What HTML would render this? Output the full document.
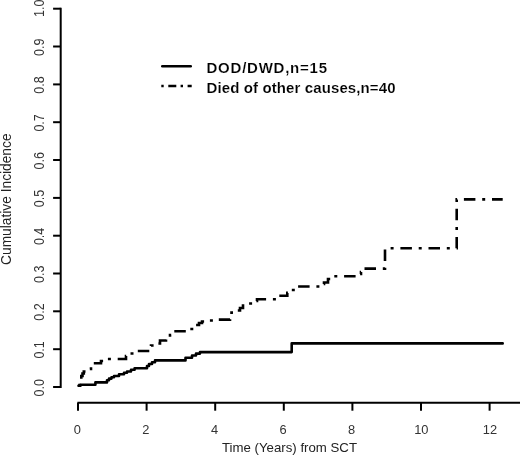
<!DOCTYPE html>
<html><head><meta charset="utf-8"><title>Cumulative Incidence</title>
<style>
html,body{margin:0;padding:0;background:#fff;}
body{width:520px;height:455px;overflow:hidden;}
svg{display:block;font-family:"Liberation Sans",Arial,sans-serif;fill:#111;}
.ax{stroke:#000;stroke-width:2;fill:none;}
.yt{font-size:14px;fill:#333;}
.xt{font-size:12.5px;fill:#333;}
.lab{font-size:13px;fill:#222;}
.ylab{font-size:14px;fill:#222;}
.leg{font-size:15px;font-weight:bold;fill:#000;stroke:#fff;stroke-width:0.15;}
.c1{stroke:#000;stroke-width:2.6;fill:none;stroke-linejoin:round;stroke-linecap:round;}
.c2{stroke:#000;stroke-width:2.6;fill:none;stroke-linejoin:miter;stroke-linecap:butt;stroke-dasharray:3 6.8 11.5 6.8;}
.l2{stroke:#000;stroke-width:2.5;fill:none;stroke-dasharray:2.4 4.6 8 4.3;}
</style></head><body>
<svg width="520" height="455" viewBox="0 0 520 455">
<rect width="520" height="455" fill="#fff"/>
<path d="M60.7 388.0 V7.7" class="ax"/>
<path d="M53.1 387.0 H60.7" class="ax"/>
<text class="yt" transform="translate(43.7 387.7) rotate(-90)" text-anchor="middle" textLength="17.4" lengthAdjust="spacingAndGlyphs">0.0</text>
<path d="M53.1 349.2 H60.7" class="ax"/>
<text class="yt" transform="translate(43.7 349.9) rotate(-90)" text-anchor="middle" textLength="17.4" lengthAdjust="spacingAndGlyphs">0.1</text>
<path d="M53.1 311.3 H60.7" class="ax"/>
<text class="yt" transform="translate(43.7 312.0) rotate(-90)" text-anchor="middle" textLength="17.4" lengthAdjust="spacingAndGlyphs">0.2</text>
<path d="M53.1 273.5 H60.7" class="ax"/>
<text class="yt" transform="translate(43.7 274.2) rotate(-90)" text-anchor="middle" textLength="17.4" lengthAdjust="spacingAndGlyphs">0.3</text>
<path d="M53.1 235.7 H60.7" class="ax"/>
<text class="yt" transform="translate(43.7 236.4) rotate(-90)" text-anchor="middle" textLength="17.4" lengthAdjust="spacingAndGlyphs">0.4</text>
<path d="M53.1 197.9 H60.7" class="ax"/>
<text class="yt" transform="translate(43.7 198.6) rotate(-90)" text-anchor="middle" textLength="17.4" lengthAdjust="spacingAndGlyphs">0.5</text>
<path d="M53.1 160.0 H60.7" class="ax"/>
<text class="yt" transform="translate(43.7 160.7) rotate(-90)" text-anchor="middle" textLength="17.4" lengthAdjust="spacingAndGlyphs">0.6</text>
<path d="M53.1 122.2 H60.7" class="ax"/>
<text class="yt" transform="translate(43.7 122.9) rotate(-90)" text-anchor="middle" textLength="17.4" lengthAdjust="spacingAndGlyphs">0.7</text>
<path d="M53.1 84.4 H60.7" class="ax"/>
<text class="yt" transform="translate(43.7 85.1) rotate(-90)" text-anchor="middle" textLength="17.4" lengthAdjust="spacingAndGlyphs">0.8</text>
<path d="M53.1 46.5 H60.7" class="ax"/>
<text class="yt" transform="translate(43.7 47.2) rotate(-90)" text-anchor="middle" textLength="17.4" lengthAdjust="spacingAndGlyphs">0.9</text>
<path d="M53.1 8.7 H60.7" class="ax"/>
<text class="yt" transform="translate(43.7 8.2) rotate(-90)" text-anchor="middle" textLength="17.4" lengthAdjust="spacingAndGlyphs">1.0</text>
<path d="M77.4 402.7 H521.0" class="ax"/>
<path d="M78.0 402.7 V410.7" class="ax"/>
<text class="xt" transform="translate(77.3 433.8) scale(1.03 1)" text-anchor="middle">0</text>
<path d="M146.6 402.7 V410.7" class="ax"/>
<text class="xt" transform="translate(145.9 433.8) scale(1.03 1)" text-anchor="middle">2</text>
<path d="M215.2 402.7 V410.7" class="ax"/>
<text class="xt" transform="translate(214.5 433.8) scale(1.03 1)" text-anchor="middle">4</text>
<path d="M283.8 402.7 V410.7" class="ax"/>
<text class="xt" transform="translate(283.1 433.8) scale(1.03 1)" text-anchor="middle">6</text>
<path d="M352.4 402.7 V410.7" class="ax"/>
<text class="xt" transform="translate(351.7 433.8) scale(1.03 1)" text-anchor="middle">8</text>
<path d="M421.0 402.7 V410.7" class="ax"/>
<text class="xt" transform="translate(421.3 433.8) scale(1.03 1)" text-anchor="middle">10</text>
<path d="M489.6 402.7 V410.7" class="ax"/>
<text class="xt" transform="translate(489.9 433.8) scale(1.03 1)" text-anchor="middle">12</text>
<text class="ylab" transform="translate(11.3 199.2) rotate(-90)" text-anchor="middle" textLength="131.5" lengthAdjust="spacingAndGlyphs">Cumulative Incidence</text>
<text class="lab" x="289.5" y="451.6" text-anchor="middle" textLength="135" lengthAdjust="spacingAndGlyphs">Time (Years) from SCT</text>
<path class="c1" d="M78.5 385.8 H80.5 V384.8 H95.4 V382.4 H107.0 V380.2 H109.0 V378.6 H111.5 V377.2 H114.0 V376.0 H119.0 V374.2 H124.0 V372.8 H127.0 V371.5 H131.0 V369.8 H134.6 V368.2 H147.0 V366.0 H149.0 V364.0 H152.0 V362.3 H155.0 V360.4 H185.5 V357.8 H192.0 V355.5 H196.0 V353.6 H200.0 V352.1 H291.7 V343.4 H502.7"/>
<path class="c2" d="M78.5 385.8 H79.5 V382.0 H80.3 V379.0 H81.3 V376.0 H82.5 V373.5 H83.8 V371.5 H85.5 V370.0 H88.0 V369.0 H91.0 V367.0 H92.5 V363.2 H101.0 V361.0 H106.0 V359.0 H126.0 V356.0 H130.0 V353.5 H134.0 V351.0 H148.0 V348.0 H151.0 V345.5 H156.0 V343.5 H160.0 V340.5 H166.0 V337.5 H170.0 V335.0 H173.0 V331.3 H187.0 V329.0 H192.0 V327.0 H196.0 V325.0 H199.0 V323.0 H202.0 V321.5 H208.0 V320.5 H216.0 V319.6 H230.0 V316.0 H231.5 V312.5 H236.0 V310.5 H240.0 V308.0 H243.0 V305.5 H247.0 V303.5 H253.0 V301.0 H257.0 V299.2 H277.0 V297.5 H279.0 V295.8 H287.3 V292.9 H291.0 V290.0 H296.0 V288.0 H298.0 V286.5 H322.0 V284.0 H324.0 V282.5 H328.0 V279.0 H331.0 V276.3 H358.0 V274.0 H361.0 V272.0 H363.0 V268.6 H385.0 V248.3 H456.7 V199.4 H502.7"/>
<path class="c1" d="M162.3 66.2 H190.7"/>
<path class="l2" d="M161.3 85.9 H191.7"/>
<text class="leg" x="206.5" y="73.4" textLength="120.5" lengthAdjust="spacing">DOD/DWD,n=15</text>
<text class="leg" x="206.5" y="92.9" textLength="189" lengthAdjust="spacing">Died of other causes,n=40</text>
</svg>
</body></html>
